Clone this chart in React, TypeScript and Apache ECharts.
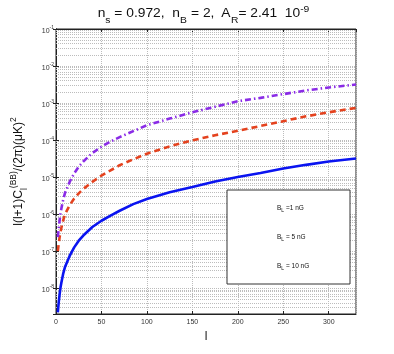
import React, { useEffect, useRef } from 'react';
import * as echarts from 'echarts';

// multipole values l
const ells = [2, 3, 4, 5, 6, 8, 10, 15, 20, 25, 30, 40, 50, 60, 70, 85, 100, 125, 150, 175, 200, 225, 250, 275, 300, 330];
// l(l+1)C_l^(BB)/(2pi) (muK)^2 for B_L = 1 nG
const clB1 = [2.2e-9, 4.17e-9, 6.92e-9, 1.05e-8, 1.45e-8, 2.51e-8, 3.8e-8, 7.41e-8, 1.26e-7, 1.91e-7, 2.63e-7, 4.47e-7, 6.61e-7, 9.12e-7, 1.23e-6, 1.86e-6, 2.57e-6, 3.89e-6, 5.37e-6, 7.59e-6, 1.0e-5, 1.29e-5, 1.7e-5, 2.14e-5, 2.63e-5, 3.16e-5];
// B_L = 5 nG
const clB5 = [1.0e-7, 1.58e-7, 2.4e-7, 3.31e-7, 4.37e-7, 6.92e-7, 1.0e-6, 1.74e-6, 2.63e-6, 3.63e-6, 4.79e-6, 7.41e-6, 1.1e-5, 1.51e-5, 2.09e-5, 3.02e-5, 4.27e-5, 6.76e-5, 9.77e-5, 1.35e-4, 1.78e-4, 2.4e-4, 3.24e-4, 4.37e-4, 5.62e-4, 7.41e-4];
// B_L = 10 nG
const clB10 = [2.4e-7, 4.17e-7, 6.92e-7, 1.05e-6, 1.45e-6, 2.51e-6, 3.8e-6, 7.41e-6, 1.26e-5, 1.91e-5, 2.63e-5, 4.47e-5, 6.61e-5, 9.12e-5, 1.2e-4, 1.74e-4, 2.51e-4, 3.8e-4, 5.62e-4, 7.94e-4, 1.12e-3, 1.38e-3, 1.74e-3, 2.19e-3, 2.63e-3, 3.16e-3];

const seriesKeys = ['b1', 'b5', 'b10'];
const legendLabels: Record<string, string> = {
  b1: '{m|B}{s|L}{m| =1 nG}',
  b5: '{m|B}{s|L}{m| = 5 nG}',
  b10: '{m|B}{s|L}{m| = 10 nG}',
};

const X_MIN = 0;
const X_MAX = 330;
const X_STEP = 50;
const Y_MIN = 2e-9;
const Y_MAX = 0.1;

const font = '"Liberation Sans", Arial, Helvetica, sans-serif';

const minorGrid: number[] = [];
for (let k = -9; k <= -2; k++) {
  for (let m = 2; m <= 9; m++) {
    const v = m * Math.pow(10, k);
    if (v > Y_MIN * 1.02 && v < Y_MAX) minorGrid.push(v);
  }
}

const yLabelFmt = (v: number) => {
  const lg = Math.log10(v);
  const e = Math.round(lg);
  if (Math.abs(lg - e) > 1e-6) return '';
  return `{b|10}{s|${e}}`;
};

const axisColor = '#222';
const gridColor = '#bcbcbc';
const gridLine = { show: true, lineStyle: { type: 'dotted' as const, color: gridColor, width: 1 } };

function pairs(ys: number[]) {
  return ells.map((l, i) => [l, ys[i]]);
}

export default function App() {
  const ref = useRef<HTMLDivElement>(null);
  useEffect(() => {
    const chart = echarts.init(ref.current!, null, { renderer: 'svg' });
    const option: any = {
      animation: false,
      textStyle: { fontFamily: font },
      grid: {
        left: 51, right: 38, top: 29, bottom: 40,
        show: true, borderColor: axisColor, borderWidth: 1,
        containLabel: false,
      },
      xAxis: [
        {
          type: 'value', min: X_MIN, max: X_MAX, interval: X_STEP,
          axisLine: { show: true, lineStyle: { color: axisColor } },
          axisTick: { show: true, inside: true, length: 3, lineStyle: { color: axisColor } },
          axisLabel: { fontSize: 7, color: '#333', margin: 4, showMaxLabel: false },
          splitLine: gridLine,
          name: 'l', nameLocation: 'middle', nameGap: 11,
          nameTextStyle: { fontSize: 12, color: '#111' },
        },
        {
          type: 'value', position: 'top', min: X_MIN, max: X_MAX, interval: X_STEP,
          axisLine: { show: true, lineStyle: { color: axisColor } },
          axisTick: { show: true, inside: true, length: 3, lineStyle: { color: axisColor } },
          axisLabel: { show: false },
          splitLine: { show: false },
        },
      ],
      yAxis: [
        {
          type: 'log', logBase: 10, min: Y_MIN, max: Y_MAX, splitNumber: 8,
          axisLine: { show: true, lineStyle: { color: axisColor } },
          axisTick: { show: true, inside: true, length: 3, lineStyle: { color: axisColor } },
          axisLabel: {
            formatter: yLabelFmt, margin: 2, showMinLabel: false, color: '#333',
            rich: {
              b: { fontSize: 7, color: '#333', lineHeight: 10, verticalAlign: 'bottom' },
              s: { fontSize: 5, color: '#333', verticalAlign: 'top' },
            },
          },
          splitLine: gridLine,
          name: '{n|l(l+1)C}{sb|l}{sp|(BB)}{n|/(2π)(μK)}{sp|2}',
          nameLocation: 'middle', nameRotate: 90, nameGap: 28,
          nameTextStyle: {
            color: '#111',
            rich: {
              n: { fontSize: 12, lineHeight: 20, verticalAlign: 'middle', color: '#111' },
              sb: { fontSize: 8.5, verticalAlign: 'bottom', color: '#111' },
              sp: { fontSize: 8.5, verticalAlign: 'top', color: '#111' },
            },
          },
        },
        {
          type: 'log', logBase: 10, min: Y_MIN, max: Y_MAX, splitNumber: 8, position: 'right',
          axisLine: { show: true, lineStyle: { color: axisColor } },
          axisTick: { show: true, inside: true, length: 3, lineStyle: { color: axisColor } },
          axisLabel: { show: false },
          splitLine: { show: false },
        },
      ],
      legend: {
        data: seriesKeys, orient: 'vertical', left: 272, top: 202, padding: 0,
        itemGap: 19, itemWidth: 0, itemHeight: 10, icon: 'none',
        selectedMode: false, z: 60,
        formatter: (name: string) => legendLabels[name],
        textStyle: {
          color: '#111',
          rich: {
            m: { fontSize: 6.5, lineHeight: 10, verticalAlign: 'middle', color: '#111' },
            s: { fontSize: 5, verticalAlign: 'bottom', color: '#111' },
          },
        },
      },
      graphic: [
        {
          type: 'rect', z: 50,
          shape: { x: 227, y: 190, width: 123, height: 94 },
          style: { fill: '#fff', stroke: '#333', lineWidth: 1 },
        },
        {
          type: 'text', x: 203.5, y: 13, scaleX: 1.15, z: 50,
          style: {
            text: '{n|n}{sb|s}{n| = 0.972,  n}{sb|B}{n| = 2,  A}{sb|R}{n|= 2.41  10}{sp|-9}',
            align: 'center', verticalAlign: 'middle', fill: '#111', fontFamily: font,
            rich: {
              n: { fontSize: 12, lineHeight: 22, verticalAlign: 'middle', fill: '#111', fontFamily: font },
              sb: { fontSize: 9, verticalAlign: 'bottom', fill: '#111', fontFamily: font },
              sp: { fontSize: 9, verticalAlign: 'top', padding: [2, 0, 0, 0], fill: '#111', fontFamily: font },
            },
          },
        },
      ],
      series: [
        {
          name: 'gridMinor', type: 'line', data: [], silent: true, z: 1,
          markLine: {
            silent: true, symbol: ['none', 'none'], z: 1, animation: false,
            precision: 15,
            label: { show: false },
            lineStyle: { type: 'dotted', color: gridColor, width: 1 },
            data: minorGrid.map((v) => ({ yAxis: v })),
          },
        },
        {
          name: 'b1', type: 'line', data: pairs(clB1), showSymbol: false, z: 3,
          lineStyle: { color: '#0a14f0', width: 2.6, type: 'solid' },
          itemStyle: { color: '#0a14f0' },
        },
        {
          name: 'b5', type: 'line', data: pairs(clB5), showSymbol: false, z: 3,
          lineStyle: { color: '#e4421e', width: 2.6, type: [6, 4] },
          itemStyle: { color: '#e4421e' },
        },
        {
          name: 'b10', type: 'line', data: pairs(clB10), showSymbol: false, z: 3,
          lineStyle: { color: '#8a2be6', width: 2.6, type: [6, 3, 1.5, 3] },
          itemStyle: { color: '#8a2be6' },
        },
      ],
    };
    chart.setOption(option);
    return () => chart.dispose();
  }, []);
  return <div ref={ref} style={{ position: 'fixed', left: 0, top: 0, width: 394, height: 354 }} />;
}
